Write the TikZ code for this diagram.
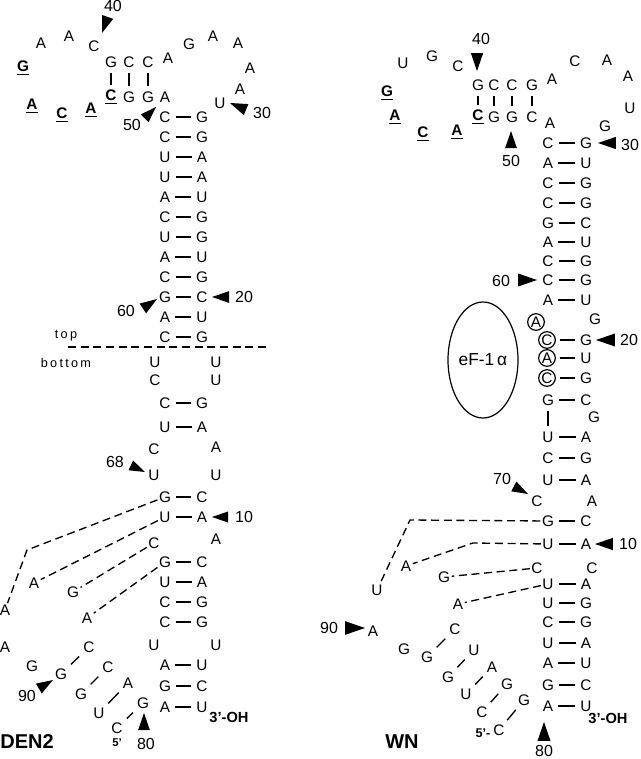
\documentclass[tikz,border=0pt]{standalone}
\usepackage{fontspec}
\setmainfont{Liberation Sans}
\newfontfamily\spacedfont[LetterSpace=18]{Liberation Sans}
\usetikzlibrary{calc,shapes.geometric}
\newcommand\nucfont{\fontsize{11.5}{13}\selectfont}
\tikzset{
  nuc/.style={font=\nucfont, inner sep=1pt},
  key/.style={font=\nucfont\bfseries, inner sep=1pt},
  num/.style={font=\fontsize{12}{14}\selectfont, inner sep=1pt},
  tag/.style={nuc, circle, draw, line width=0.9pt, minimum size=12.5pt, inner sep=0pt},
  pair/.style={line width=1pt, shorten <=2.8pt, shorten >=2.8pt},
  link/.style={line width=1pt, dash pattern=on 6pt off 3.5pt},
  strand/.style={font=\fontsize{15}{17}\selectfont\bfseries, inner sep=0pt},
  prime/.style={font=\fontsize{11}{13}\selectfont\bfseries, inner sep=0pt},
  region/.style={font=\spacedfont\fontsize{9.5}{11}\selectfont, inner sep=0pt}
}

\begin{document}
\begin{tikzpicture}[x=0.75pt,y=-0.75pt]
  \useasboundingbox (0,0) rectangle (640,759);

  % DEN2: top loop
  \foreach \n/\t/\x/\y in {dl1/C/94/46, dl2/A/69/36, dl3/A/41/43, dl4/A/168/58,
      dl5/G/189/44, dl6/A/213/36, dl7/A/238/43, dl8/A/250/68, dl9/A/240/89,
      dl10/U/220/103, dl11/A/165/97}
    \node[nuc] (\n) at (\x,\y) {\t};
  \foreach \n/\t/\x/\y in {dk1/G/23/68, dk2/A/32/106, dk3/C/62/115, dk4/A/91/110}
    \node[key] (\n) at (\x,\y) {\underline{\t}};
  \foreach \u/\l/\x [count=\i] in {G/\underline{\textbf{C}}/111, C/G/129, C/G/148} {
    \node[nuc] (dhu\i) at (\x,62) {\u};
    \node[nuc] (dhl\i) at (\x,97) {\l};
    \draw[pair] (dhu\i) -- (dhl\i);
  }

  % DEN2: stem
  \foreach \l/\r/\y [count=\i] in {C/G/117, C/G/137, U/A/157, U/A/177, A/U/197,
      C/G/217, U/G/237, A/U/257, C/G/277, G/C/297, A/U/317, C/G/337, C/G/403,
      U/A/427, G/C/497, U/A/517, G/C/562, U/A/582, C/G/602, C/G/622, A/U/665,
      G/C/686, A/U/707} {
    \node[nuc] (ds\i) at (165,\y) {\l};
    \node[nuc] (dt\i) at (202,\y) {\r};
    \draw[pair] (ds\i) -- (dt\i);
  }
  \foreach \n/\t/\x/\y in {db1/U/155/362, db2/U/216/362, db3/C/155/380,
      db4/U/216/380, db5/C/154/449, db6/A/216/447, db7/U/154/475, db8/U/216/475,
      db9/C/154/543, db10/A/216/539, db11/U/154/645, db12/U/216/645}
    \node[nuc] (\n) at (\x,\y) {\t};

  % DEN2: 5' branch
  \foreach \n/\t/\x/\y in {dx1/A/34/583, dx2/G/73/592, dx3/A/87/618,
      dx4/A/5/610, dx5/A/5/647, dx6/G/32/666}
    \node[nuc] (\n) at (\x,\y) {\t};
  \foreach \a/\b/\ax/\ay/\bx/\by [count=\i] in {G/C/61/674/89/647,
      G/C/81/694/108/667, U/A/99/713/128/683, C/G/117/728/143/703} {
    \node[nuc] (dy\i) at (\ax,\ay) {\a};
    \node[nuc] (dz\i) at (\bx,\by) {\b};
    \draw[pair] (dy\i) -- (dz\i);
  }
  \coordinate (dbend) at (27,550);
  \draw[link] (ds15) -- (dbend) -- (dx4);
  \draw[link] (ds16) -- (dx1);
  \draw[link] (db9) -- (dx2);
  \draw[link] (ds17) -- (dx3);

  % DEN2: top / bottom
  \coordinate (cutl) at (68,347);
  \coordinate (cutr) at (268,347);
  \draw[link] (cutl) -- (cutr);
  \node[region] (top) at (66,336) {top};
  \node[region] (bottom) at (66,363) {bottom};

  % WN: top loop
  \foreach \n/\t/\x/\y in {wl1/C/458/66, wl2/G/432/56, wl3/U/403/63, wl4/A/552/79,
      wl5/C/575/61, wl6/A/607/60, wl7/A/628/76, wl8/U/630/108, wl9/G/605/126,
      wl10/A/550/123}
    \node[nuc] (\n) at (\x,\y) {\t};
  \foreach \n/\t/\x/\y in {wk1/G/387/93, wk2/A/395/117, wk3/C/423/134, wk4/A/457/132}
    \node[key] (\n) at (\x,\y) {\underline{\t}};
  \foreach \u/\l/\x [count=\i] in {G/\underline{\textbf{C}}/478, C/G/494, C/G/512, G/C/532} {
    \node[nuc] (whu\i) at (\x,85) {\u};
    \node[nuc] (whl\i) at (\x,117) {\l};
    \draw[pair] (whu\i) -- (whl\i);
  }

  % WN: stem
  \foreach \l/\r/\y [count=\i] in {C/G/143, A/U/163, C/G/183, C/G/203, G/C/223,
      A/U/242, C/G/261, C/G/280, A/U/300, G/C/400, U/A/437, C/G/458, U/A/480,
      G/C/521, U/A/544, U/A/584, U/G/603, C/G/622, U/A/643, A/U/663, G/C/685,
      A/U/706} {
    \node[nuc] (ws\i) at (548,\y) {\l};
    \node[nuc] (wt\i) at (586,\y) {\r};
    \draw[pair] (ws\i) -- (wt\i);
  }
  \node[tag] (wc0) at (536,322) {A};
  \foreach \l/\r/\y [count=\i] in {C/G/340, A/U/358, C/G/378} {
    \node[tag] (wc\i) at (547,\y) {\l};
    \node[nuc] (wd\i) at (586,\y) {\r};
    \draw[pair] (wc\i) -- (wd\i);
  }
  \draw[pair] (ws10) -- (ws11);
  \foreach \n/\t/\x/\y in {wb1/G/595/319, wb2/G/594/417, wb3/C/537/501,
      wb4/A/592/501, wb5/C/537/568, wb6/C/592/568}
    \node[nuc] (\n) at (\x,\y) {\t};

  \node[draw, ellipse, line width=0.9pt, minimum width=52.5pt, minimum height=87pt,
    inner sep=0pt, font=\fontsize{13}{15}\selectfont] (eF) at (483,360) {eF-1\,α};

  % WN: 5' branch
  \foreach \n/\t/\x/\y in {wx1/U/377/590, wx2/A/406/566, wx3/G/444/577,
      wx4/A/458/604, wx5/A/373/631, wx6/G/404/649}
    \node[nuc] (\n) at (\x,\y) {\t};
  \foreach \a/\b/\ax/\ay/\bx/\by [count=\i] in {G/C/427/657/455/629,
      G/U/448/677/474/650, U/A/466/694/492/667, C/G/482/712/507/684,
      C/G/499/730/524/700} {
    \node[nuc] (wy\i) at (\ax,\ay) {\a};
    \node[nuc] (wz\i) at (\bx,\by) {\b};
    \draw[pair] (wy\i) -- (wz\i);
  }
  \coordinate (wbend1) at (410,520);
  \coordinate (wbend2) at (473,543);
  \draw[link] (ws14) -- (wbend1) -- (wx1);
  \draw[link] (ws15) -- (wbend2) -- (wx2);
  \draw[link] (wb5) -- (wx3);
  \draw[link] (ws16) -- (wx4);

  % position markers
  \foreach \tx/\ty/\bx/\by in {102/33/108/16, 230/103/247/110, 156/107/144/119,
      157/299/142/309, 212/297/230/297, 145/472/130/465, 212/517/229/517,
      144/713/144/731, 53/680/38/689, 477/71/477/52, 511/131/511/149,
      598/143/617/143, 537/280/517/280, 596/340/616/340, 528/494/513/486,
      595/544/614/544, 365/628/344/628, 544/722/544/742}
    \fill (\tx,\ty) -- ($(\tx,\ty)!1!19:(\bx,\by)$) -- ($(\tx,\ty)!1!-19:(\bx,\by)$) -- cycle;
  \foreach \n/\t/\x/\y in {d40/40/113/6, d30/30/262/113, d50/50/132/125,
      d60/60/126/311, d20/20/244/297, d68/68/115/462, d10/10/244/517,
      d80/80/146/744, d90/90/27/696, w40/40/481/39, w50/50/511/161,
      w30/30/630/145, w60/60/501/281, w20/20/629/340, w70/70/502/479,
      w10/10/628/544, w90/90/329/628, w80/80/544/751}
    \node[num] (\n) at (\x,\y) {\t};

  % ends and names
  \node[prime] (d3end) at (229,717) {3'-OH};
  \node[prime, font=\fontsize{8.5}{10}\selectfont\bfseries] (d5end) at (117,743) {5'};
  \node[prime] (w3end) at (608,718) {3'-OH};
  \node[prime, font=\fontsize{9.5}{11}\selectfont\bfseries] (w5end) at (483,733) {5'-};
  \node[strand] (den) at (27,742) {DEN2};
  \node[strand] (wn) at (402,742) {WN};
\end{tikzpicture}
\end{document}
